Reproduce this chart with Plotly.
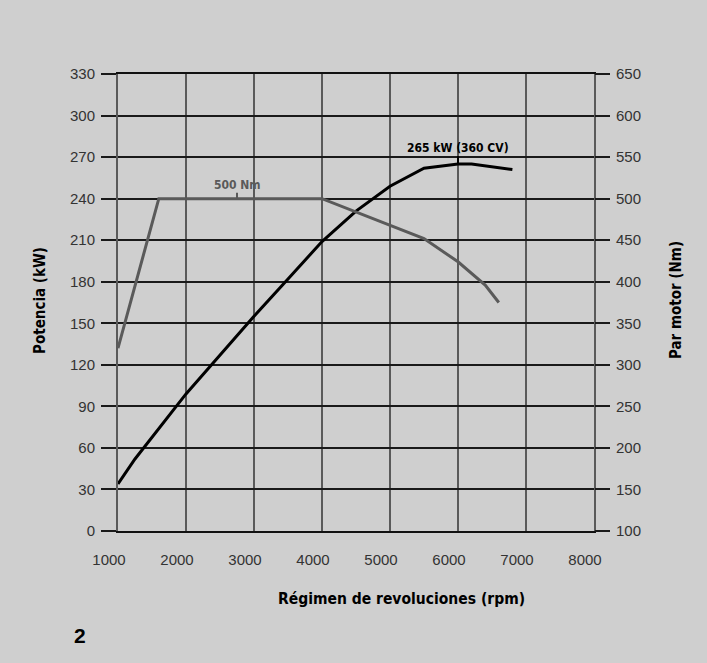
import plotly.graph_objects as go

# Data
rpm_power = [1000, 1250, 2000, 2500, 3000, 3500, 4000, 4500, 5000, 5500, 6000, 6200, 6800]
power_kw = [34, 52, 99, 127, 155, 182, 209, 231, 249, 262, 265, 265, 261]

rpm_torque = [1000, 1600, 4000, 5000, 5500, 6000, 6400, 6600]
torque_nm = [320, 500, 500, 468, 452, 424, 396, 375]

x_ticks = [1000, 2000, 3000, 4000, 5000, 6000, 7000, 8000]
y_ticks = list(range(0, 331, 30))
y2_ticks = list(range(100, 651, 50))

BG = "#cfcfcf"
GRAY = "#5a5a5a"
BOLD_FONT = "DejaVu Sans Condensed, Liberation Sans Narrow, Arial Narrow, sans-serif"
REG_FONT = "Liberation Sans, Arial, sans-serif"

fig = go.Figure()
fig.add_trace(go.Scatter(x=rpm_torque, y=torque_nm, mode="lines", yaxis="y2",
                         line=dict(color=GRAY, width=3), hoverinfo="skip", showlegend=False))
fig.add_trace(go.Scatter(x=rpm_power, y=power_kw, mode="lines", yaxis="y",
                         line=dict(color="#000000", width=3), hoverinfo="skip", showlegend=False))

# peak markers
fig.add_shape(type="line", xref="x", yref="y2", x0=2750, x1=2750, ysizemode="pixel",
              yanchor=500, y0=0, y1=6, line=dict(color=GRAY, width=2))
fig.add_shape(type="line", xref="x", yref="y", x0=6000, x1=6000, ysizemode="pixel",
              yanchor=265, y0=0, y1=8, line=dict(color="#000000", width=2))
fig.add_annotation(x=2750, y=500, xref="x", yref="y2", text="<b>500 Nm</b>", showarrow=False,
                   yanchor="bottom", yshift=5, font=dict(family=BOLD_FONT, size=12, color=GRAY))
fig.add_annotation(x=6000, y=265, xref="x", yref="y", text="<b>265 kW (360 CV)</b>", showarrow=False,
                   yanchor="bottom", yshift=7, font=dict(family=BOLD_FONT, size=12, color="#000000"))

# titles
fig.add_annotation(x=-0.1639, y=0.5055, xref="paper", yref="paper", text="<b>Potencia (kW)</b>",
                   textangle=-90, showarrow=False, xanchor="center", yanchor="middle",
                   font=dict(family=BOLD_FONT, size=15, color="#000"))
fig.add_annotation(x=1.1723, y=0.5055, xref="paper", yref="paper", text="<b>Par motor (Nm)</b>",
                   textangle=-90, showarrow=False, xanchor="center", yanchor="middle",
                   font=dict(family=BOLD_FONT, size=15, color="#000"))
fig.add_annotation(x=0.596, y=-0.1488, xref="paper", yref="paper", text="<b>Régimen de revoluciones (rpm)</b>",
                   showarrow=False, xanchor="center", yanchor="middle",
                   font=dict(family=BOLD_FONT, size=15.5, color="#000"))
fig.add_annotation(x=-0.0798, y=-0.2276, xref="paper", yref="paper", text="<b>2</b>",
                   showarrow=False, xanchor="center", yanchor="middle",
                   font=dict(family="Liberation Sans, Arial, sans-serif", size=21, color="#000"))

fig.update_layout(
    width=707, height=663,
    margin=dict(l=118, r=113, t=74, b=132),
    paper_bgcolor=BG, plot_bgcolor=BG,
    font=dict(family=REG_FONT, size=15, color="#333333"),
    xaxis=dict(range=[1000, 8000], tickvals=x_ticks, ticktext=[str(v) for v in x_ticks],
               showgrid=True, gridcolor=GRAY, gridwidth=2,
               showline=True, mirror=True, linecolor="#111111", linewidth=1.5,
               ticks="outside", ticklen=14, tickcolor="rgba(0,0,0,0)",
               ticklabelshift=-9, zeroline=False),
    yaxis=dict(range=[0, 330], tickvals=y_ticks, showgrid=True, gridcolor="#1a1a1a", gridwidth=1.5,
               showline=True, mirror=True, linecolor=GRAY, linewidth=2,
               ticks="outside", ticklen=15, tickcolor="#1a1a1a", tickwidth=1.5,
               ticklabelstandoff=3, zeroline=False),
    yaxis2=dict(range=[100, 650], tickvals=y2_ticks, overlaying="y", side="right",
                showgrid=False, showline=False, ticks="outside", ticklen=15,
                tickcolor="#1a1a1a", tickwidth=1.5, ticklabelstandoff=3, zeroline=False),
)

fig.write_html("out.html", config={"displayModeBar": False},
               post_script="document.body.style.margin='0';document.body.style.padding='0';"
                           "document.body.style.background='#cfcfcf';")
